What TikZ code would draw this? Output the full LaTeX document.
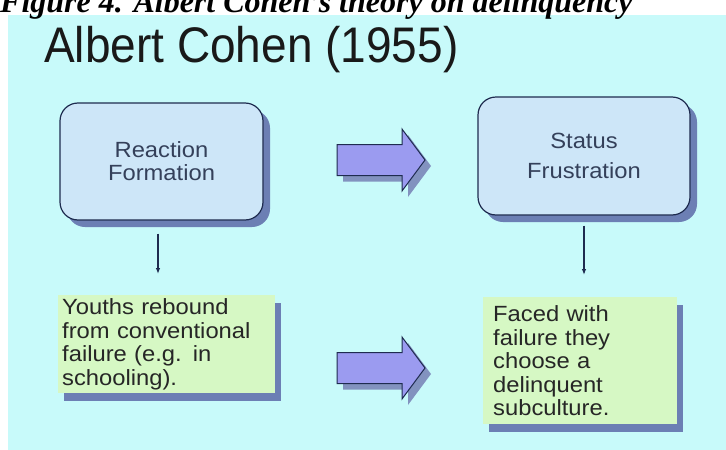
\documentclass[tikz,border=0pt]{standalone}
\usepackage{fontspec}
\setmainfont{Liberation Serif}
\newfontfamily\CohenTitle[FakeStretch=0.92]{Liberation Sans}
\newfontfamily\CohenBody[FakeStretch=1.08]{Liberation Sans}
\usepackage{tikz}
\usetikzlibrary{arrows.meta,calc,shadows}
\definecolor{CohenSky}{HTML}{C8FAFA}
\definecolor{CohenBox}{HTML}{CDE6F8}
\definecolor{CohenLine}{HTML}{1E2B4F}
\definecolor{CohenShade}{HTML}{6C7FB4}
\definecolor{CohenArrowFill}{HTML}{9B9BF0}
\definecolor{CohenNote}{HTML}{D6F8C4}
\definecolor{CohenInk}{HTML}{34405A}
\newcommand{\CohenArrow}[2]{%
  \begin{scope}[shift={(#1,#2)}]
    \fill[CohenShade!85] (6,-9.5) -- (71,-9.5) -- (71,-25) -- (94,6) -- (71,37) -- (71,21.5) -- (6,21.5) -- cycle;
    \draw[CohenLine,fill=CohenArrowFill,line width=1pt] (0,-15.5) -- (65,-15.5) -- (65,-31) -- (88,0) -- (65,31) -- (65,15.5) -- (0,15.5) -- cycle;
  \end{scope}}

\begin{document}
\begin{tikzpicture}[x=1pt,y=-1pt,
  bluebox/.style={draw=CohenLine,line width=1.2pt,fill=CohenBox,rounded corners=18pt,
    drop shadow={shadow xshift=7pt,shadow yshift=-7pt,fill=CohenShade,opacity=1},
    align=center,text=CohenInk,font=\CohenBody\fontsize{22}{23}\selectfont},
  notebox/.style={fill=CohenNote,
    drop shadow={shadow xshift=6pt,shadow yshift=-8pt,fill=CohenShade,opacity=1},
    anchor=north west,align=left,text=black!85,font=\CohenBody\fontsize{22}{23.5}\selectfont},
  droparrow/.style={draw=CohenLine,line width=1.1pt,-{Latex[length=6pt,width=4.5pt]}}]
  \useasboundingbox (0,0) rectangle (726,450);
  \clip (0,0) rectangle (726,450);
  \fill[CohenSky] (8,15) rectangle (726,450);
  \node[anchor=base west,inner sep=0pt,font=\fontsize{32}{36}\selectfont\bfseries\itshape] (caption) at (0,12) {Figure 4. Albert Cohen's theory on delinquency};
  \node[anchor=base west,inner sep=0pt,text=black!90,font=\CohenTitle\fontsize{50}{54}\selectfont] (title) at (44,62) {Albert Cohen (1955)};
  % top row
  \node[bluebox,minimum width=203pt,minimum height=117pt] (reaction) at (161.5,161.5) {Reaction\\Formation};
  \node[bluebox,minimum width=212pt,minimum height=118pt] (status) at (584,156) {Status\\[7pt]Frustration};
  % bottom row
  \node[notebox,text width=209pt,minimum height=98pt,inner xsep=4pt] (rebound) at (58,295) {Youths rebound\\from conventional\\failure (e.g. in\\schooling).};
  \node[notebox,text width=174pt,minimum height=127pt,inner xsep=10pt] (subculture) at (483,297) {Faced with\\failure they\\choose a\\delinquent\\subculture.};
  \CohenArrow{337}{160}
  \CohenArrow{337}{368}
  \draw[droparrow] ($(reaction.south)+(-3.5,13)$) -- ($(reaction.south |- rebound.north)+(-3.5,-21)$);
  \draw[droparrow] ($(status.south)+(0,10)$) -- ($(status.south |- subculture.north)+(0,-22)$);
\end{tikzpicture}
\end{document}
